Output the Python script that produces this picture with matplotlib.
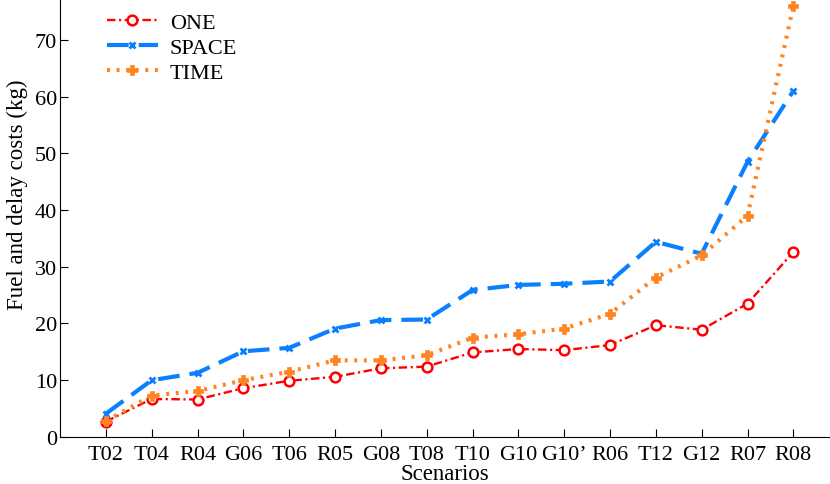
import numpy as np
import matplotlib
matplotlib.use("Agg")
import matplotlib.pyplot as plt

scenarios = ["T02", "T04", "R04", "G06", "T06", "R05", "G08", "T08",
             "T10", "G10", "G10\u2019", "R06", "T12", "G12", "R07", "R08"]

one_cost = [2.7, 6.7, 6.6, 8.6, 9.9, 10.6, 12.1, 12.4,
            14.9, 15.5, 15.3, 16.2, 19.7, 18.9, 23.5, 32.6]
space_cost = [4.1, 10.0, 11.3, 15.1, 15.7, 19.1, 20.6, 20.7,
              25.9, 26.8, 27.0, 27.4, 34.4, 32.3, 48.5, 61.0]
time_cost = [2.8, 7.3, 8.1, 10.0, 11.5, 13.5, 13.5, 14.4,
             17.5, 18.1, 19.1, 21.7, 28.1, 32.0, 39.0, 76.0]

plt.rcParams['font.family'] = ['Liberation Serif', 'DejaVu Serif']
plt.rcParams['font.size'] = 16

fig = plt.figure(figsize=(8.3, 4.85), dpi=100)
ax = fig.add_axes([0.0723, 0.097, 0.9277, 0.903])

x = np.arange(len(scenarios))

ax.plot(x, one_cost, color='#ff0000', linestyle=(0, (3.6, 1.5, 0.9, 1.5)), lw=1.7,
        marker='o', ms=7, mfc='white', mec='#ff0000', mew=1.8, label='ONE')
ax.plot(x, space_cost, color='#0a80ff', linestyle=(0, (5.2, 2.4)), lw=3.0,
        marker='x', ms=4, mew=2, label='SPACE')
ax.plot(x, time_cost, color='#ff8522', linestyle=(0, (0.7, 1.6)), lw=3.0,
        marker='P', ms=6.5, mew=0.5, label='TIME')

ax.set_xlim(-1, 15.8)
ax.set_ylim(0, 77.2)
ax.set_xticks(x)
ax.set_xticklabels(scenarios)
ax.set_yticks(np.arange(0, 71, 10))

for side in ('top', 'right'):
    ax.spines[side].set_visible(False)
ax.tick_params(direction='in', length=6, width=0.8, pad=2)
ax.tick_params(axis='x', pad=6)

ax.set_xlabel('Scenarios', fontsize=16.5, labelpad=-1)
ax.set_ylabel('Fuel and delay costs (kg)', fontsize=16.5)
ax.yaxis.set_label_coords(-0.041, 0.555)

ax.legend(loc='upper left', bbox_to_anchor=(0.049, 0.99), borderaxespad=0,
          frameon=False, handlelength=2.3, handletextpad=0.55,
          labelspacing=0.2, fontsize=16)

fig.savefig('out.png', dpi=100)
